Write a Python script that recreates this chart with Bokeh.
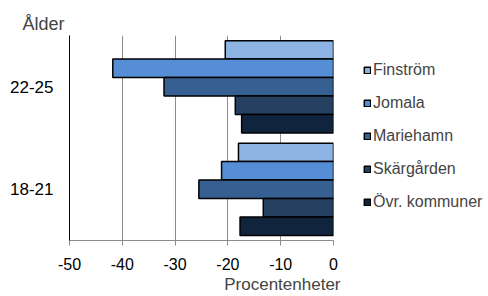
from bokeh.plotting import figure
from bokeh.models import FactorRange, Legend, LegendItem, Title, FixedTicker, ColumnDataSource, Range1d
from bokeh.transform import dodge
from bokeh.embed import file_html
from bokeh.resources import INLINE

categories = ["18-21", "22-25"]
series_names = ["Finström", "Jomala", "Mariehamn", "Skärgården", "Övr. kommuner"]
finstrom = [-18.0, -20.5]
jomala = [-21.2, -41.8]
mariehamn = [-25.5, -32.1]
skargarden = [-13.3, -18.6]
ovr = [-17.7, -17.4]
series_values = [finstrom, jomala, mariehamn, skargarden, ovr]
colors = ["#8DB3E2", "#558ED5", "#366092", "#254061", "#10243E"]
x_ticks = [-50, -40, -30, -20, -10, 0]

FONT = "Liberation Sans"
GRAY = "#8c8c8c"

data = {"cat": categories}
for i, vals in enumerate(series_values):
    data[f"s{i}"] = vals
source = ColumnDataSource(data)

p = figure(
    frame_width=264, frame_height=205,
    min_border_left=69, min_border_right=155, min_border_top=35, min_border_bottom=56,
    y_range=FactorRange(factors=categories, range_padding=0),
    x_range=Range1d(-50, 0),
    output_backend="svg", toolbar_location=None,
)
p.outline_line_color = None
p.background_fill_color = "white"

n = len(series_names)
bar_h = 0.9 / n
items = []
for i, name in enumerate(series_names):
    offset = ((n - 1) / 2 - i) * bar_h
    r = p.hbar(y=dodge("cat", offset, range=p.y_range), left=0, right=f"s{i}",
               height=bar_h, source=source, fill_color=colors[i],
               line_color="black", line_width=1.5)
    items.append(LegendItem(label=name, renderers=[r]))

legend = Legend(items=items, location=(30, 28), margin=0, padding=0, spacing=13,
                label_height=20, glyph_width=8, glyph_height=8, label_standoff=2,
                label_text_font=FONT, label_text_font_size="16px",
                border_line_color=None, background_fill_alpha=0)
p.add_layout(legend, "right")

# grid
p.ygrid.grid_line_color = None
p.xgrid.grid_line_color = GRAY
p.xgrid.grid_line_width = 1
p.xgrid.ticker = FixedTicker(ticks=x_ticks)

# x axis
p.xaxis.ticker = FixedTicker(ticks=x_ticks)
p.xaxis.major_label_overrides = {t: str(t) for t in x_ticks}
p.xaxis.axis_line_color = GRAY
p.xaxis.major_tick_line_color = GRAY
p.xaxis.major_tick_out = 5
p.xaxis.major_tick_in = 0
p.xaxis.minor_tick_line_color = None
p.xaxis.major_label_standoff = 12
p.xaxis.major_label_text_font = FONT
p.xaxis.major_label_text_font_size = "16px"
p.xaxis.major_label_text_color = "black"

# y axis
p.yaxis.axis_line_color = "black"
p.yaxis.major_tick_line_color = None
p.yaxis.major_tick_out = 0
p.yaxis.major_tick_in = 0
p.yaxis.minor_tick_line_color = None
p.yaxis.major_label_standoff = 16
p.yaxis.major_label_text_font = FONT
p.yaxis.major_label_text_font_size = "17px"
p.yaxis.major_label_text_color = "black"

# titles
p.title.text = "Ålder"
p.title.align = "left"
p.title.offset = -47
p.title.standoff = 3
p.title.text_font = FONT
p.title.text_font_size = "18px"
p.title.text_font_style = "normal"

xt = Title(text="Procentenheter", align="right", offset=-7, standoff=0,
           text_font=FONT, text_font_size="17px", text_font_style="normal")
p.add_layout(xt, "below")

open("out.html", "w").write(file_html(p, INLINE))
